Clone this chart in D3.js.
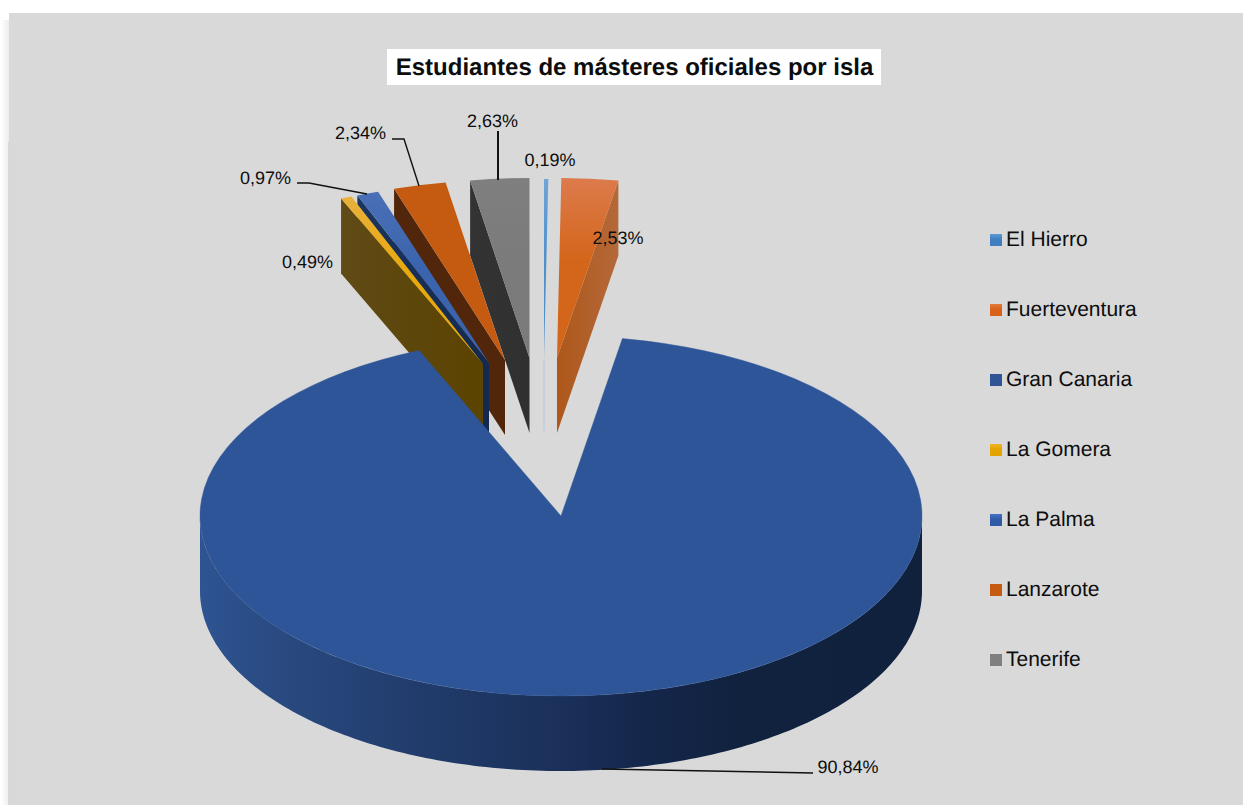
<!DOCTYPE html>
<html>
<head>
<meta charset="utf-8">
<script src="https://cdn.jsdelivr.net/npm/d3@7/dist/d3.min.js"></script>
<style>
html,body{margin:0;padding:0;background:#fff;overflow:hidden}
svg{display:block}
text{font-family:"Liberation Sans",Arial,sans-serif;fill:#0d0d0d;text-rendering:geometricPrecision}
</style>
</head>
<body>
<svg id="chart" width="1243" height="805"></svg>
<script>
// ---- data ----
const titleText = "Estudiantes de másteres oficiales por isla";
const islands = ["El Hierro","Fuerteventura","Gran Canaria","La Gomera","La Palma","Lanzarote","Tenerife"];
const shares  = [0.19, 2.53, 90.84, 0.49, 0.97, 2.34, 2.63];
const shareLabels = ["0,19%","2,53%","90,84%","0,49%","0,97%","2,34%","2,63%"];

// ---- styling and layout, per island ----
const topLight = ["#6fa5d8","#dc7b4c","#2e5597","#e9b13c","#4a70b6","#c55a11","#7f7f7f"];
const topBase  = ["#4f8fca","#d4661c","#2e5597","#e8a90c","#3a64ae","#c55a11","#7b7b7b"];
const wallLight= [null,"#b4693a",null,"#604a16","#1b355f","#52260a","#333333"];
const wallBase = [null,"#ae571a",null,"#5b4300","#13294f","#52260a","#303030"];
const legendLight = ["#5b9bd5","#e07b39","#2f5597","#f0b429","#4472c4","#c55a11","#7f7f7f"];
const legendBase  = ["#3f7fbf","#d9611a","#2f5597","#e5a300","#2f5aa8","#c55a11","#7f7f7f"];
const apexX = [544,557,561,483,489,505,529.5];
const apexY = [359,358,516,364,363,360,358];
const labelX = [550,618,848,307.5,265.5,360.5,492.5];
const labelY = [160,238,766.5,262,178,133,121];
const leaders = [
  null,null,
  [[602,769],[813,773]],
  null,
  [[297,183],[309,183],[367,194]],
  [[392,139],[404,139],[419,186]],
  [[498,131],[498,180]]
];

const W = 1243, H = 805, RX = 361, RY = 180, DEPTH = 75;
const svg = d3.select("#chart");
const defs = svg.append("defs");

function vGrad(id,a,b){
  const g = defs.append("linearGradient").attr("id",id).attr("x1",0).attr("y1",0).attr("x2",0).attr("y2",1);
  g.append("stop").attr("offset","0").attr("stop-color",a);
  g.append("stop").attr("offset","0.45").attr("stop-color",b);
  g.append("stop").attr("offset","1").attr("stop-color",b);
}
function hGrad(id,stops,x1,x2){
  const g = defs.append("linearGradient").attr("id",id).attr("gradientUnits","userSpaceOnUse")
    .attr("x1",x1).attr("y1",0).attr("x2",x2).attr("y2",0);
  stops.forEach(s=>g.append("stop").attr("offset",s[0]).attr("stop-color",s[1]));
}
islands.forEach((n,i)=>{
  vGrad("top"+i,topLight[i],topBase[i]);
  vGrad("leg"+i,legendLight[i],legendBase[i]);
});
hGrad("shadow",[[0,"#ffffff"],[1,"#ececec"]],1,9);
hGrad("rim",[[0,"#2e5492"],[0.12,"#29497f"],[0.3,"#213c6c"],[0.5,"#1b3059"],[0.62,"#14264a"],[0.75,"#11223f"],[1,"#10213d"]],200,922);

// panel
svg.append("rect").attr("x",1).attr("y",20).attr("width",8).attr("height",H-20).attr("fill","url(#shadow)");
svg.append("rect").attr("x",9).attr("y",13).attr("width",W-9).attr("height",H-13).attr("fill","#d9d9d9");
svg.append("rect").attr("x",8).attr("y",142).attr("width",6).attr("height",H-142).attr("fill","#d8d8d8");

// pie geometry from d3
const pie = d3.pie().value(d=>d).sort(null).startAngle(0).endAngle(2*Math.PI);
const arcs = pie(shares);
const arc = d3.arc().innerRadius(0).outerRadius(RX);
const yScale = RY/RX;
const pt = (i,a)=>[apexX[i]+RX*Math.sin(a), apexY[i]-RY*Math.cos(a)];

const gPie = svg.append("g");

function drawWedge(i){
  const d = arcs[i];
  if(wallBase[i]){
    const edge = i===1 ? d.endAngle : d.startAngle;
    const o = pt(i,edge), a=[apexX[i],apexY[i]];
    const gid="wall"+i;
    hGrad(gid,[[0,i===1?wallBase[i]:wallLight[i]],[1,i===1?wallLight[i]:wallBase[i]]],Math.min(o[0],a[0]),Math.max(o[0],a[0]));
    gPie.append("path")
      .attr("d",d3.line()([o,a,[a[0],a[1]+DEPTH],[o[0],o[1]+DEPTH]])+"Z")
      .attr("fill",`url(#${gid})`);
  } else if(i===0){
    // the sliver's wall shows only as a faint edge below its apex
    gPie.append("path")
      .attr("d",d3.line()([[apexX[i],apexY[i]],[apexX[i],apexY[i]+DEPTH-3]]))
      .attr("stroke","#b3c7da").attr("stroke-width",1).attr("fill","none");
  }
  gPie.append("path")
    .attr("transform",`translate(${apexX[i]},${apexY[i]}) scale(1,${yScale})`)
    .attr("d",arc(d))
    .attr("fill",`url(#top${i})`);
}

// draw order: each pulled-out wedge sits in front of its clockwise neighbour
[6,5,4,3,0,1].forEach(drawWedge);

// main wedge: rim and top
const m = 2;
const rimAngles = d3.range(90,270.5,1).map(d=>d*Math.PI/180);
const rimTop = rimAngles.map(a=>pt(m,a));
const rimBottom = rimAngles.map(a=>{const p=pt(m,a);return [p[0],p[1]+DEPTH];}).reverse();
gPie.append("path")
  .attr("d",d3.line()(rimTop.concat(rimBottom))+"Z")
  .attr("fill","url(#rim)");
gPie.append("path")
  .attr("transform",`translate(${apexX[m]},${apexY[m]}) scale(1,${yScale})`)
  .attr("d",arc(arcs[m]))
  .attr("fill",`url(#top${m})`)
  .attr("stroke","#2e5597").attr("stroke-width",0.6);

// leader lines
leaders.forEach((l,i)=>{
  if(!l) return;
  svg.append("path").attr("d",d3.line()(l)).attr("fill","none").attr("stroke","#111")
    .attr("stroke-width",i===6?2:1.4);
});

// data labels
svg.append("g").selectAll("text").data(shareLabels).join("text")
  .attr("x",(d,i)=>labelX[i]).attr("y",(d,i)=>labelY[i])
  .attr("text-anchor","middle").attr("dominant-baseline","central")
  .attr("font-size",18).text(d=>d);

// title
svg.append("rect").attr("x",387).attr("y",49).attr("width",494).attr("height",36).attr("fill","#fff");
svg.append("text").attr("x",634.5).attr("y",67).attr("text-anchor","middle").attr("dominant-baseline","central")
  .attr("font-size",24).attr("font-weight","bold").attr("fill","#000").text(titleText);

// legend
const legendY = d3.scalePoint().domain(islands).range([240,660]);
const lg = svg.append("g").selectAll("g").data(islands).join("g")
  .attr("transform",d=>`translate(990,${legendY(d)})`);
lg.append("rect").attr("x",0).attr("y",-6).attr("width",12).attr("height",12)
  .attr("fill",(d,i)=>`url(#leg${i})`);
lg.append("text").attr("x",16).attr("y",-1).attr("dominant-baseline","central")
  .attr("font-size",21).text(d=>d);
</script>
</body>
</html>
